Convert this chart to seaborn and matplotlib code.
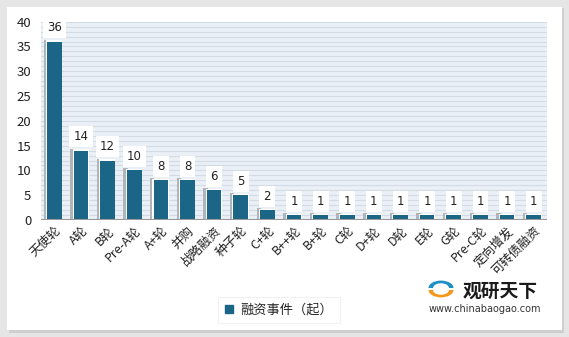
import matplotlib
matplotlib.use("Agg")
import matplotlib.pyplot as plt
import matplotlib.patches as mpatches
import seaborn as sns
import pandas as pd
import numpy as np

categories = ["天使轮", "A轮", "B轮", "Pre-A轮", "A+轮", "并购", "战略融资", "种子轮", "C+轮",
              "B++轮", "B+轮", "C轮", "D+轮", "D轮", "E轮", "G轮", "Pre-C轮", "定向增发", "可转债融资"]
values = [36, 14, 12, 10, 8, 8, 6, 5, 2, 1, 1, 1, 1, 1, 1, 1, 1, 1, 1]
series_name = "融资事件（起）"

sns.set_theme(style="white")
plt.rcParams['font.family'] = ['Noto Sans CJK SC', 'DejaVu Sans']

df = pd.DataFrame({"cat": categories, "val": values})

fig = plt.figure(figsize=(5.69, 3.37), dpi=100)
fig.patch.set_facecolor("#E6E6E6")
# white panel with shadow
fig.patches.append(mpatches.Rectangle((9/569, 1-333/337), 555/569, 325/337, transform=fig.transFigure,
                                      facecolor="#CFCFCF", edgecolor="none", zorder=-2))
fig.patches.append(mpatches.Rectangle((7/569, 1-330/337), 555/569, 323/337, transform=fig.transFigure,
                                      facecolor="white", edgecolor="none", zorder=-1))

ax = fig.add_axes([41/569, 1-220/337, 506/569, 198.3/337])
ax.set_zorder(2)
ax.set_facecolor("#EAF0F6")
bar_color = "#1B6587"
sns.barplot(data=df, x="cat", y="val", color=bar_color, width=0.55, ax=ax,
            saturation=1, edgecolor="none", zorder=3)
bars = list(ax.patches)
ax.set_ylim(0, 40)
ax.set_xlim(-0.5, len(categories) - 0.5)
ax.set_yticks(range(0, 41, 5))
for y in range(1, 41):
    ax.axhline(y, color="#D3DCE4", lw=0.8, zorder=1)

# bar shadows and labels
for p, v in zip(bars, values):
    x0 = p.get_x()
    w = p.get_width()
    sh = mpatches.Rectangle((x0 - 0.13, 0), 0.16, v + 0.4, facecolor="#B0B5BA", edgecolor="none", zorder=2)
    ax.add_patch(sh)
    sh2 = mpatches.Rectangle((x0 - 0.04, 0), w + 0.06, v + 0.25, facecolor="white", edgecolor="none", zorder=2.5)
    ax.add_patch(sh2)
    ax.text(x0 + w / 2, v + 2.8, str(v), ha="center", va="center", fontsize=8.5,
            family=['DejaVu Sans'], color="#222222",
            bbox=dict(boxstyle="square,pad=0.35", facecolor="white", edgecolor="none"), zorder=4)

ax.axhline(0, color="#999999", lw=1.5, zorder=5)
for s in ax.spines.values():
    s.set_visible(False)
ax.set_xlabel("")
ax.set_ylabel("")
ax.tick_params(axis="y", labelsize=9.5, length=0, pad=7, colors="#222222")
ax.tick_params(axis="x", labelsize=9, length=0, pad=3, colors="#222222")
ax.set_xticks(range(len(categories)))
ax.set_xticklabels(categories, rotation=45, ha="right", rotation_mode="anchor")

# legend
legend_handle = mpatches.Patch(color=bar_color, label=series_name)
leg = fig.legend(handles=[legend_handle], loc="center", bbox_to_anchor=(279/569, 1-310/337),
                 frameon=True, fontsize=9.5, handlelength=0.6, handleheight=0.6, handletextpad=0.6,
                 borderpad=0.5, fancybox=False)
leg.get_frame().set_edgecolor("#EEEEEE")
leg.get_frame().set_linewidth(0.8)

# watermark logo text
fig.text(463/569, 1-291/337, "观研天下", fontsize=13.5, fontweight="bold", color="#1A1A1A",
         ha="left", va="center")
fig.text(485/569, 1-309/337, "www.chinabaogao.com", fontsize=7, color="#333333",
         ha="center", va="center", family=['DejaVu Sans'])
# simple swirl mark
fig.patches.append(mpatches.Wedge((441/569, 1-290/337), 0.022, 180, 360, transform=fig.transFigure,
                                  width=0.008, facecolor="#F39A1E", edgecolor="none"))
fig.patches.append(mpatches.Wedge((441/569, 1-288/337), 0.022, 0, 180, transform=fig.transFigure,
                                  width=0.008, facecolor="#1F8FC8", edgecolor="none"))

fig.savefig("out.png", dpi=100, facecolor=fig.get_facecolor())
